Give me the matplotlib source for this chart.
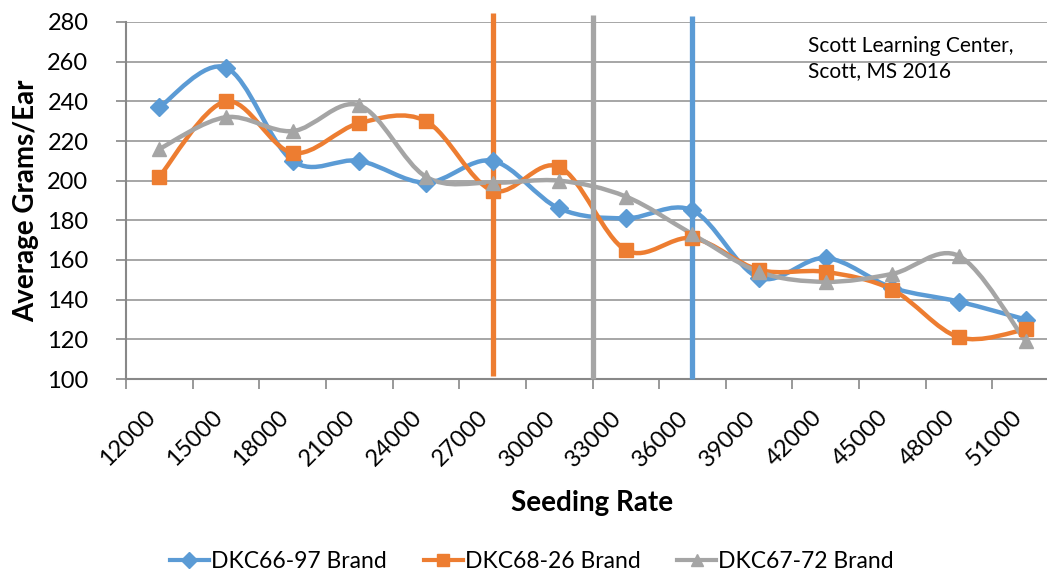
import numpy as np
import matplotlib.pyplot as plt
from matplotlib.path import Path
from matplotlib.patches import PathPatch
from matplotlib.lines import Line2D
from matplotlib.transforms import ScaledTranslation

# seeding rates (seeds/acre) and average grams per ear for each hybrid
rates = [12000, 15000, 18000, 21000, 24000, 27000, 30000,
         33000, 36000, 39000, 42000, 45000, 48000, 51000]
dkc6697 = [237, 257, 210, 210, 199, 210, 186, 181, 185, 151, 161, 146, 139, 130]
dkc6826 = [202, 240, 214, 229, 230, 195, 207, 165, 171, 155, 154, 145, 121, 125]
dkc6772 = [216, 232, 225, 238, 202, 199, 200, 192, 173, 154, 149, 153, 162, 119]

# optimum seeding rate for each hybrid (vertical markers)
opt_rates = [27000, 31500, 36000]
opt_low = [101.5, 100, 100]
opt_high = [284.5, 283.5, 283]

names = ["DKC66-97 Brand", "DKC68-26 Brand", "DKC67-72 Brand"]
colors = ["#5B9BD5", "#ED7D31", "#A5A5A5"]
markers = ["D", "s", "^"]
msizes = [9.5, 10, 10.5]

plt.rcParams['font.family'] = ['Lato', 'DejaVu Sans']


def smooth_path(xs, ys):
    """Catmull-Rom curve through the points as cubic bezier segments."""
    pts = np.column_stack([xs, ys]).astype(float)
    ext = np.vstack([pts[0], pts, pts[-1]])
    verts = [tuple(pts[0])]
    codes = [Path.MOVETO]
    for i in range(len(pts) - 1):
        p0, p1, p2, p3 = ext[i], ext[i + 1], ext[i + 2], ext[i + 3]
        c1 = p1 + (p2 - p0) / 6.0
        c2 = p2 - (p3 - p1) / 6.0
        verts += [tuple(c1), tuple(c2), tuple(p2)]
        codes += [Path.CURVE4] * 3
    return Path(verts, codes)


fig = plt.figure(figsize=(10.47, 5.73), dpi=100)
ax = fig.add_axes([126 / 1047, 1 - 379 / 573, 933 / 1047, 357 / 573])

x = np.arange(len(rates))
for vals, c, m, ms, name in zip([dkc6697, dkc6826, dkc6772], colors, markers, msizes, names):
    ax.add_patch(PathPatch(smooth_path(x, vals), facecolor="none", edgecolor=c,
                           lw=3.2, zorder=3, capstyle="round", joinstyle="round"))
    ax.plot(x, vals, linestyle="none", marker=m, markersize=ms, color=c, zorder=4)

for r, lo, hi, c in zip(opt_rates, opt_low, opt_high, [colors[1], colors[2], colors[0]]):
    xi = (r - rates[0]) / (rates[1] - rates[0])
    ax.plot([xi, xi], [lo, hi], color=c, lw=3.8, zorder=3.5, clip_on=False,
            solid_capstyle="butt")

ax.set_xlim(-0.5, len(rates) - 0.5)
ax.set_ylim(100, 280)
ax.set_yticks(np.arange(100, 281, 20))
ax.tick_params(axis="y", labelsize=17, length=7, width=1.2, color="#888888", pad=20)
ax.grid(axis="y", color="#a6a6a6", lw=1.4, zorder=0)
ax.set_axisbelow(True)

# category labels centred, ticks on the category boundaries
ax.set_xticks(x)
ax.set_xticklabels([str(r) for r in rates], rotation=45, ha="right", va="top",
                   fontsize=17)
shift = ScaledTranslation(5 / 100, 0, fig.dpi_scale_trans)
for lbl in ax.get_xticklabels():
    lbl.set_transform(lbl.get_transform() + shift)
ax.tick_params(axis="x", length=0, pad=20)
ax.set_xticks(np.arange(-0.5, len(rates), 1), minor=True)
ax.tick_params(axis="x", which="minor", length=7, width=1.2, color="#888888")

for side in ["top", "right"]:
    ax.spines[side].set_visible(False)
for side in ["left", "bottom"]:
    ax.spines[side].set_color("#888888")
    ax.spines[side].set_linewidth(1.5)

ax.set_ylabel("Average Grams/Ear", fontsize=20, fontweight="bold", labelpad=6)
ax.set_xlabel("Seeding Rate", fontsize=20, fontweight="bold", labelpad=14)

ax.text(808, 573 - 36, "Scott Learning Center,\nScott, MS 2016",
        transform=None, fontsize=15, va="top", ha="left", linespacing=1.3)

handles = [Line2D([], [], color=c, lw=3, marker=m, markersize=ms * 0.85)
           for c, m, ms in zip(colors, markers, msizes)]
fig.legend(handles, names, loc="center", bbox_to_anchor=(532 / 1047, 1 - 562 / 573),
           ncol=3, frameon=False, fontsize=16.5, handlelength=1.7,
           handletextpad=0.1, columnspacing=1.6)

fig.savefig("out.png", dpi=100)
